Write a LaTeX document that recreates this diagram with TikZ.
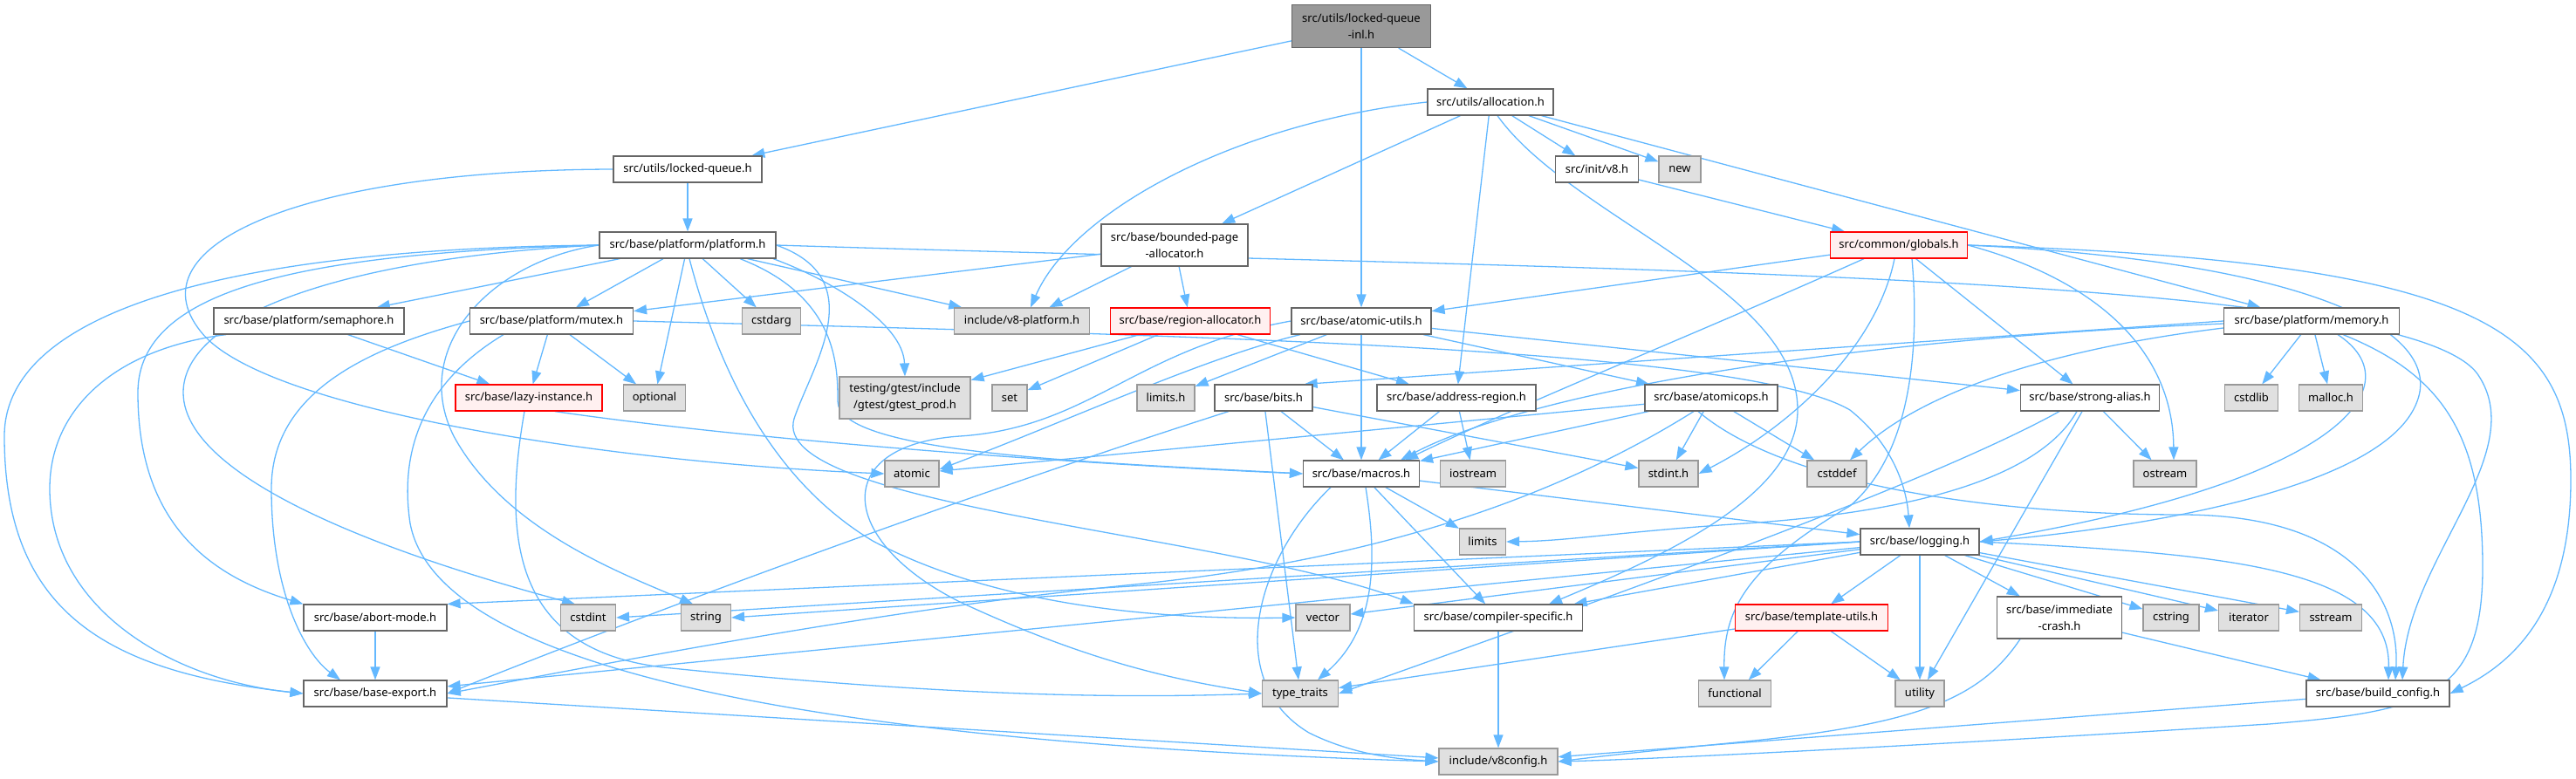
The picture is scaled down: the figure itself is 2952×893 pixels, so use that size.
\documentclass[tikz,border=0pt]{standalone}
\usepackage{fontspec}
\setmainfont{Noto Sans}
\usetikzlibrary{arrows.meta, backgrounds}

\definecolor{edgeblue}{RGB}{99,184,255}
\definecolor{boxline}{RGB}{102,102,102}
\definecolor{sysline}{RGB}{153,153,153}
\definecolor{sysfill}{RGB}{224,224,224}
\definecolor{redline}{RGB}{255,0,0}
\definecolor{redfill}{RGB}{255,240,240}
\definecolor{rootfill}{RGB}{153,153,153}

\begin{document}
\begin{tikzpicture}[
  x=1pt, y=-1pt,
  font=\fontsize{13}{19}\selectfont,
  hdr/.style={draw=boxline, fill=white, line width=1.2pt, inner sep=0pt, minimum height=30pt, align=center},
  sys/.style={hdr, draw=sysline, fill=sysfill},
  trunc/.style={hdr, draw=redline, fill=redfill},
  root/.style={hdr, fill=rootfill},
  dep/.style={draw=edgeblue, line width=1.3pt, -{Triangle[length=15pt,width=11pt]}}
]
  \useasboundingbox (0,0) rectangle (2952,893);

  % Root and first levels
  \node[root, minimum width=159pt, minimum height=49pt] (lqi) at (1560,30) {src/utils/locked-queue\\-inl.h};
  \node[hdr, minimum width=144pt] (alloc) at (1708,117) {src/utils/allocation.h};
  \node[hdr, minimum width=170pt] (lq) at (788,194) {src/utils/locked-queue.h};
  \node[hdr, minimum width=95pt] (initv8) at (1830,194) {src/init/v8.h};
  \node[sys, minimum width=48pt] (new) at (1925,194) {new};
  \node[hdr, minimum width=202pt] (platform) at (788,281) {src/base/platform/platform.h};
  \node[hdr, minimum width=168pt, minimum height=48pt] (bpa) at (1346,281) {src/base/bounded-page\\-allocator.h};
  \node[trunc, minimum width=157pt] (globals) at (2176,281) {src/common/globals.h};

  % Row of platform headers
  \node[hdr, minimum width=218pt] (semaphore) at (354,368) {src/base/platform/semaphore.h};
  \node[hdr, minimum width=187pt] (mutex) at (632,368) {src/base/platform/mutex.h};
  \node[sys, minimum width=67pt] (cstdarg) at (884,368) {cstdarg};
  \node[sys, minimum width=155pt] (v8platform) at (1171,368) {include/v8-platform.h};
  \node[trunc, minimum width=183pt] (regalloc) at (1364,368) {src/base/region-allocator.h};
  \node[hdr, minimum width=160pt] (atomicutils) at (1560,368) {src/base/atomic-utils.h};
  \node[hdr, minimum width=201pt] (memory) at (2649,368) {src/base/platform/memory.h};

  % Middle row
  \node[trunc, minimum width=168pt] (lazy) at (606,456) {src/base/lazy-instance.h};
  \node[sys, minimum width=71pt] (optional) at (750,456) {optional};
  \node[sys, minimum width=150pt, minimum height=48pt] (testing) at (1037,456) {testing/gtest/include\\/gtest/gtest\_prod.h};
  \node[sys, minimum width=40pt] (set) at (1157,456) {set};
  \node[sys, minimum width=66pt] (limitsh) at (1336,456) {limits.h};
  \node[hdr, minimum width=112pt] (bits) at (1448,456) {src/base/bits.h};
  \node[hdr, minimum width=182pt] (addrreg) at (1669,456) {src/base/address-region.h};
  \node[hdr, minimum width=152pt] (atomicops) at (1961,456) {src/base/atomicops.h};
  \node[hdr, minimum width=159pt] (strongalias) at (2395,456) {src/base/strong-alias.h};
  \node[sys, minimum width=61pt] (cstdlib) at (2580,456) {cstdlib};
  \node[sys, minimum width=73pt] (malloch) at (2671,456) {malloc.h};

  \node[sys, minimum width=62pt] (atomic) at (1045,543) {atomic};
  \node[hdr, minimum width=133pt] (macros) at (1560,543) {src/base/macros.h};
  \node[sys, minimum width=75pt] (iostream) at (1688,543) {iostream};
  \node[sys, minimum width=68pt] (stdint) at (1912,543) {stdint.h};
  \node[sys, minimum width=68pt] (cstddef) at (2105,543) {cstddef};
  \node[sys, minimum width=72pt] (ostream) at (2481,543) {ostream};

  \node[sys, minimum width=53pt] (limits) at (1699,621) {limits};
  \node[hdr, minimum width=136pt] (logging) at (2200,621) {src/base/logging.h};

  % Lower rows
  \node[hdr, minimum width=164pt] (abortmode) at (430,708) {src/base/abort-mode.h};
  \node[sys, minimum width=63pt] (cstdint) at (674,708) {cstdint};
  \node[sys, minimum width=57pt] (string) at (809,708) {string};
  \node[sys, minimum width=62pt] (vector) at (1516,708) {vector};
  \node[hdr, minimum width=193pt] (compspec) at (1717,708) {src/base/compiler-specific.h};
  \node[trunc, minimum width=175pt] (tmplutils) at (2076,708) {src/base/template-utils.h};
  \node[hdr, minimum width=143pt, minimum height=48pt] (immcrash) at (2360,708) {src/base/immediate\\-crash.h};
  \node[sys, minimum width=64pt] (cstring) at (2488,708) {cstring};
  \node[sys, minimum width=69pt] (iterator) at (2577,708) {iterator};
  \node[sys, minimum width=71pt] (sstream) at (2671,708) {sstream};

  \node[hdr, minimum width=164pt] (baseexport) at (430,795) {src/base/base-export.h};
  \node[sys, minimum width=87pt] (typetraits) at (1490,795) {type\_traits};
  \node[sys, minimum width=83pt] (functional) at (1988,795) {functional};
  \node[sys, minimum width=56pt] (utility) at (2200,795) {utility};
  \node[hdr, minimum width=164pt] (buildconfig) at (2725,795) {src/base/build\_config.h};

  \node[sys, minimum width=136pt] (v8config) at (1717,873) {include/v8config.h};

  \begin{scope}[on background layer]
    % locked-queue-inl.h, locked-queue.h, allocation.h
    \draw[dep] (lqi) -- (lq);
    \draw[dep] (lqi) -- (alloc);
    \draw[dep] (lqi) -- (atomicutils);
    \draw[dep] (lq) -- (platform);
    \draw[dep] (lq.west) .. controls (350,195) and (150,280) .. (230,380) .. controls (300,470) and (700,530) .. (atomic.west);
    \draw[dep] (alloc.west) .. controls (1420,140) and (1230,240) .. ([xshift=10pt]v8platform.north);
    \draw[dep] (alloc) -- (bpa);
    \draw[dep] (alloc) -- (addrreg);
    \draw[dep] ([xshift=8pt]alloc.south) .. controls (1800,250) and (2060,330) .. (2060,470) .. controls (2060,570) and (1900,640) .. ([xshift=58pt]compspec.north);
    \draw[dep] (alloc) -- (initv8);
    \draw[dep] (alloc) -- (new);
    \draw[dep] (alloc) -- (memory);
    \draw[dep] (initv8) -- (globals);
    \draw[dep] (bpa) -- (mutex);
    \draw[dep] (bpa) -- (v8platform);
    \draw[dep] (bpa) -- (regalloc);

    % platform.h
    \draw[dep] (platform) -- (semaphore);
    \draw[dep] (platform) -- (mutex);
    \draw[dep] (platform) -- (cstdarg);
    \draw[dep] (platform) -- (v8platform);
    \draw[dep] (platform) -- (optional);
    \draw[dep] (platform.west) .. controls (560,300) and (470,400) .. (520,500) .. controls (580,610) and (720,660) .. ([xshift=-15pt]string.north);
    \draw[dep] ([xshift=2pt]platform.south) .. controls (830,450) and (900,560) .. (1000,620) .. controls (1150,700) and (1350,710) .. (vector.west);
    \draw[dep] (platform.west) .. controls (400,295) and (210,360) .. (210,450) .. controls (210,560) and (500,650) .. ([xshift=-15pt]cstdint.north);
    \draw[dep] (platform.west) .. controls (350,290) and (158,330) .. (158,450) .. controls (158,600) and (240,660) .. (abortmode.north west);
    \draw[dep] (platform.west) .. controls (250,285) and (5,360) .. (5,500) .. controls (5,700) and (120,770) .. (baseexport.west);
    \draw[dep] ([xshift=98pt]platform.south) .. controls (950,320) and (1035,370) .. (testing.north);
    \draw[dep] ([xshift=60pt]platform.south) .. controls (960,340) and (960,420) .. (960,460) .. controls (960,520) and (1250,530) .. (macros.west);
    \draw[dep] (platform.east) .. controls (1000,320) and (930,420) .. (910,480) .. controls (880,580) and (1400,610) .. (compspec.north west);
    \draw[dep] (platform.east) .. controls (1800,310) and (2760,310) .. (2840,430) .. controls (2900,520) and (2760,640) .. ([xshift=28pt]buildconfig.north);

    % semaphore.h, mutex.h, lazy-instance.h
    \draw[dep] (semaphore) -- (lazy);
    \draw[dep] ([xshift=-95pt]semaphore.south) .. controls (130,400) and (57,470) .. (57,560) .. controls (57,700) and (200,780) .. (baseexport.west);
    \draw[dep] (mutex) -- (lazy);
    \draw[dep] (mutex) -- (optional);
    \draw[dep] (mutex.west) .. controls (420,400) and (311,450) .. (311,560) .. controls (311,680) and (350,750) .. ([xshift=-40pt]baseexport.north);
    \draw[dep] ([xshift=-55pt]mutex.south) .. controls (500,430) and (455,500) .. (470,600) .. controls (500,760) and (900,850) .. (v8config.west);
    \draw[dep] (mutex.east) .. controls (1400,385) and (2000,400) .. (2120,470) .. controls (2170,510) and (2185,560) .. ([xshift=-12pt]logging.north);
    \draw[dep] ([xshift=30pt]lazy.south) .. controls (900,510) and (1300,535) .. (macros.west);
    \draw[dep] ([xshift=-5pt]lazy.south) .. controls (575,620) and (590,745) .. (760,765) .. controls (1100,800) and (1300,800) .. (typetraits.west);

    % region-allocator.h, atomic-utils.h
    \draw[dep] (regalloc) -- (testing);
    \draw[dep] (regalloc) -- (set);
    \draw[dep] (regalloc) -- (addrreg);
    \draw[dep] (atomicutils) -- (limitsh);
    \draw[dep] (atomicutils) -- (macros);
    \draw[dep] (atomicutils) -- (atomicops);
    \draw[dep] (atomicutils) -- (strongalias);
    \draw[dep] ([xshift=-70pt]atomicutils.south) .. controls (1380,410) and (1230,480) .. ([yshift=5pt]atomic.east);
    \draw[dep] (atomicutils.west) .. controls (1300,400) and (1250,490) .. (1100,500) .. controls (950,510) and (960,620) .. (1100,690) .. controls (1250,760) and (1350,780) .. (typetraits.west);

    % globals.h
    \draw[dep] (globals) -- (atomicutils);
    \draw[dep] ([xshift=-40pt]globals.south) .. controls (1950,380) and (1750,460) .. ([xshift=50pt]macros.north);
    \draw[dep] ([xshift=-5pt]globals.south) .. controls (2150,400) and (2050,490) .. (stdint.east);
    \draw[dep] (globals) -- (strongalias);
    \draw[dep] (globals.east) .. controls (2400,320) and (2490,400) .. ([xshift=10pt]ostream.north);
    \draw[dep] (globals.east) .. controls (2650,300) and (2800,380) .. (2770,460) .. controls (2730,570) and (2400,610) .. (logging.east);
    \draw[dep] (globals.east) .. controls (2850,300) and (2946,380) .. (2946,550) .. controls (2946,700) and (2880,760) .. (buildconfig.east);
    \draw[dep] ([xshift=15pt]globals.south) .. controls (2200,400) and (2190,520) .. (2120,580) .. controls (2000,650) and (1975,700) .. ([xshift=-12pt]functional.north);

    % memory.h
    \draw[dep] (memory.west) -- ([xshift=-10pt]bits.north east);
    \draw[dep] ([yshift=-3pt]memory.west) .. controls (2100,390) and (1750,450) .. ([xshift=45pt]macros.north);
    \draw[dep] ([yshift=-8pt]memory.west) .. controls (2350,400) and (2200,450) .. ([xshift=15pt]cstddef.north);
    \draw[dep] (memory) -- (cstdlib);
    \draw[dep] (memory) -- (malloch);
    \draw[dep] ([xshift=30pt]memory.south) .. controls (2765,440) and (2690,550) .. (logging.east);
    \draw[dep] ([xshift=36pt]memory.south) .. controls (2800,430) and (2845,500) .. (2845,650) .. controls (2845,800) and (2780,815) .. (2600,830) .. controls (2200,855) and (1900,870) .. (v8config.east);

    % bits.h, address-region.h, atomicops.h, strong-alias.h
    \draw[dep] (bits) -- (macros);
    \draw[dep] (bits) -- (stdint);
    \draw[dep] (bits) -- (typetraits);
    \draw[dep] ([xshift=-40pt]bits.south) .. controls (1100,570) and (750,700) .. (baseexport.east);
    \draw[dep] (addrreg) -- (macros);
    \draw[dep] (addrreg) -- (iostream);
    \draw[dep] (atomicops) -- (atomic);
    \draw[dep] (atomicops) -- (macros);
    \draw[dep] (atomicops) -- (stdint);
    \draw[dep] (atomicops) -- (cstddef);
    \draw[dep] ([xshift=-20pt]atomicops.south) .. controls (1800,560) and (1600,640) .. (1300,670) .. controls (1000,700) and (700,760) .. (baseexport.east);
    \draw[dep] ([xshift=-15pt]atomicops.south) .. controls (2050,560) and (2300,590) .. (2500,590) .. controls (2700,590) and (2750,690) .. ([xshift=20pt]buildconfig.north);
    \draw[dep] (strongalias) -- (ostream);
    \draw[dep] (strongalias) -- (utility);
    \draw[dep] ([xshift=-35pt]strongalias.south) .. controls (2200,560) and (1800,700) .. (typetraits.east);
    \draw[dep] ([xshift=-15pt]strongalias.south) .. controls (2330,560) and (2150,590) .. (2000,600) .. controls (1850,610) and (1800,620) .. (limits.east);

    % macros.h
    \draw[dep] (macros) -- (limits);
    \draw[dep] ([xshift=5pt]macros.south) .. controls (1578,640) and (1578,720) .. ([xshift=20pt]typetraits.north);
    \draw[dep] (macros) -- (compspec);
    \draw[dep] (macros) -- (logging);
    \draw[dep] ([xshift=-35pt]macros.south) .. controls (1440,640) and (1400,780) .. (1500,840) .. controls (1550,865) and (1600,870) .. (v8config.west);

    % logging.h
    \draw[dep] (logging.west) -- (cstdint.east);
    \draw[dep] (logging.west) -- (abortmode.north east);
    \draw[dep] (logging.west) -- (string.east);
    \draw[dep] (logging) -- (vector);
    \draw[dep] (logging) -- (baseexport);
    \draw[dep] (logging) -- (compspec);
    \draw[dep] (logging) -- (tmplutils);
    \draw[dep] (logging) -- (utility);
    \draw[dep] (logging) -- (immcrash);
    \draw[dep] (logging) -- (cstring);
    \draw[dep] (logging) -- (iterator);
    \draw[dep] (logging) -- (sstream);
    \draw[dep] (logging.east) .. controls (2550,635) and (2740,650) .. ([xshift=12pt]buildconfig.north);

    % lower headers
    \draw[dep] (tmplutils) -- (typetraits);
    \draw[dep] (tmplutils) -- (functional);
    \draw[dep] (tmplutils) -- (utility);
    \draw[dep] (immcrash) -- (buildconfig);
    \draw[dep] ([xshift=-45pt]immcrash.south) .. controls (2270,800) and (2200,830) .. (2000,850) .. controls (1900,860) and (1850,865) .. (v8config.east);
    \draw[dep] (compspec) -- (v8config);
    \draw[dep] (abortmode) -- (baseexport);
    \draw[dep] (baseexport) -- (v8config);
    \draw[dep] (buildconfig) -- (v8config);
  \end{scope}
\end{tikzpicture}
\end{document}
